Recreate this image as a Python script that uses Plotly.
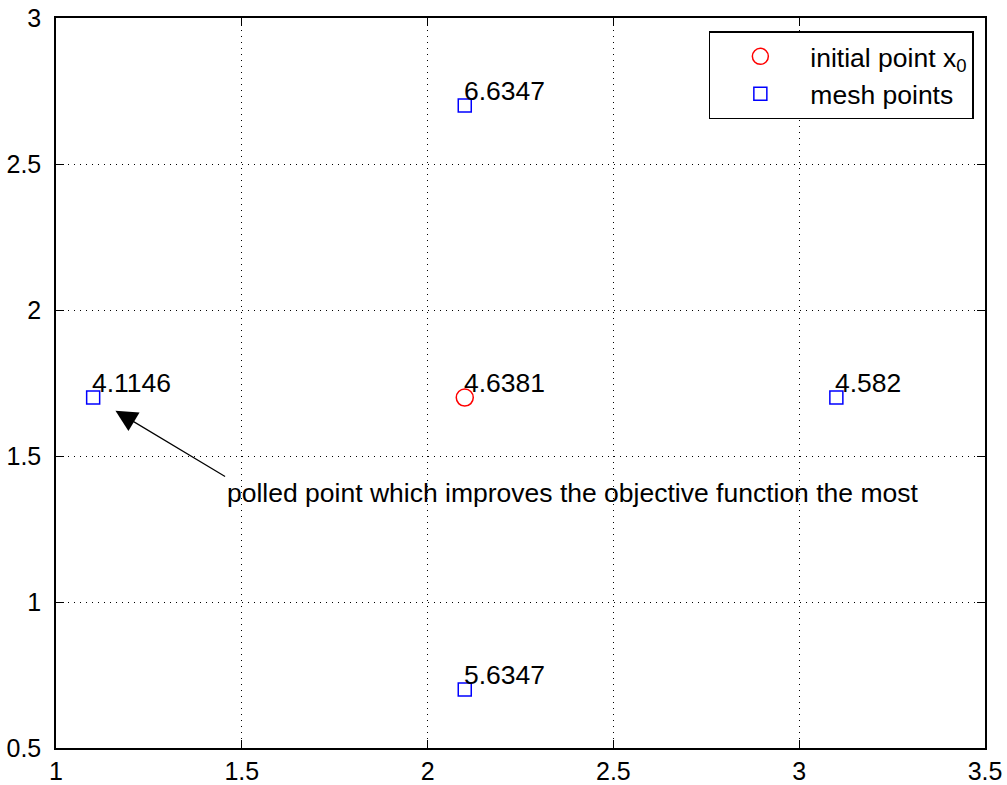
import plotly.graph_objects as go

# Poll step of a pattern search: the start point and its four mesh neighbours
x0_x = [2.1]
x0_y = [1.7]
x0_f = ["4.6381"]

mesh_x = [1.1, 3.1, 2.1, 2.1]
mesh_y = [1.7, 1.7, 2.7, 0.7]
mesh_f = ["4.1146", "4.582", "6.6347", "5.6347"]

x_ticks = [1, 1.5, 2, 2.5, 3, 3.5]
x_tick_text = ["1", "1.5", "2", "2.5", "3", "3.5"]
y_ticks = [0.5, 1, 1.5, 2, 2.5, 3]
y_tick_text = ["0.5", "1", "1.5", "2", "2.5", "3"]

# Arrow pointing at the best polled point; the caption hangs from its tail
arrow_head = (1.16, 1.655)
arrow_tail = (1.455, 1.43)
caption = "polled point which improves the objective function the most"

FONT = "Liberation Sans, Arial, Helvetica, sans-serif"
TEXT_SIZE = 26.5

fig = go.Figure()

fig.add_trace(go.Scatter(
    x=x0_x, y=x0_y, mode="markers", name="initial point x<sub>0</sub>",
    marker=dict(symbol="circle-open", size=17, color="red",
                line=dict(color="red", width=1.5)),
))
fig.add_trace(go.Scatter(
    x=mesh_x, y=mesh_y, mode="markers", name="mesh points",
    marker=dict(symbol="square-open", size=13, color="blue",
                line=dict(color="blue", width=1.5)),
))

# Objective value labels next to each point
for xs, ys, fs in ((x0_x, x0_y, x0_f), (mesh_x, mesh_y, mesh_f)):
    for xv, yv, fv in zip(xs, ys, fs):
        fig.add_annotation(
            x=xv, y=yv + 0.05, text=fv, showarrow=False,
            xanchor="left", yanchor="middle", xshift=-3,
            font=dict(family=FONT, size=TEXT_SIZE, color="black"),
        )

# Arrow with its caption
fig.add_annotation(
    x=arrow_head[0], y=arrow_head[1], ax=arrow_tail[0], ay=arrow_tail[1],
    xref="x", yref="y", axref="x", ayref="y", text=caption,
    xanchor="left", yanchor="top",
    showarrow=True, arrowhead=2, arrowsize=3.6, arrowwidth=1.2,
    arrowcolor="black", standoff=0, startstandoff=0,
    font=dict(family=FONT, size=TEXT_SIZE, color="black"),
)

axis_common = dict(
    showline=True, linecolor="black", linewidth=1.5, mirror="ticks",
    ticks="inside", ticklen=8, tickwidth=1, tickcolor="black",
    showgrid=True, gridcolor="black", gridwidth=1, griddash="1px,5px",
    zeroline=False, automargin=False,
    tickfont=dict(family=FONT, size=25, color="black"),
)

fig.update_xaxes(range=[1, 3.5], tickvals=x_ticks, ticktext=x_tick_text,
                 ticklabelstandoff=0, **axis_common)
fig.update_yaxes(range=[0.5, 3], tickvals=y_ticks, ticktext=y_tick_text,
                 ticklabelstandoff=8, **axis_common)

fig.update_layout(
    width=1007, height=785,
    margin=dict(l=56, r=22, t=18, b=37),
    plot_bgcolor="white", paper_bgcolor="white",
    font=dict(family=FONT, size=TEXT_SIZE, color="black"),
    legend=dict(
        x=0.988, y=0.982, xanchor="right", yanchor="top",
        bgcolor="white", bordercolor="black", borderwidth=1.5,
        font=dict(family=FONT, size=TEXT_SIZE, color="black"),
        itemwidth=90,
    ),
)

fig.write_html("out.html")
